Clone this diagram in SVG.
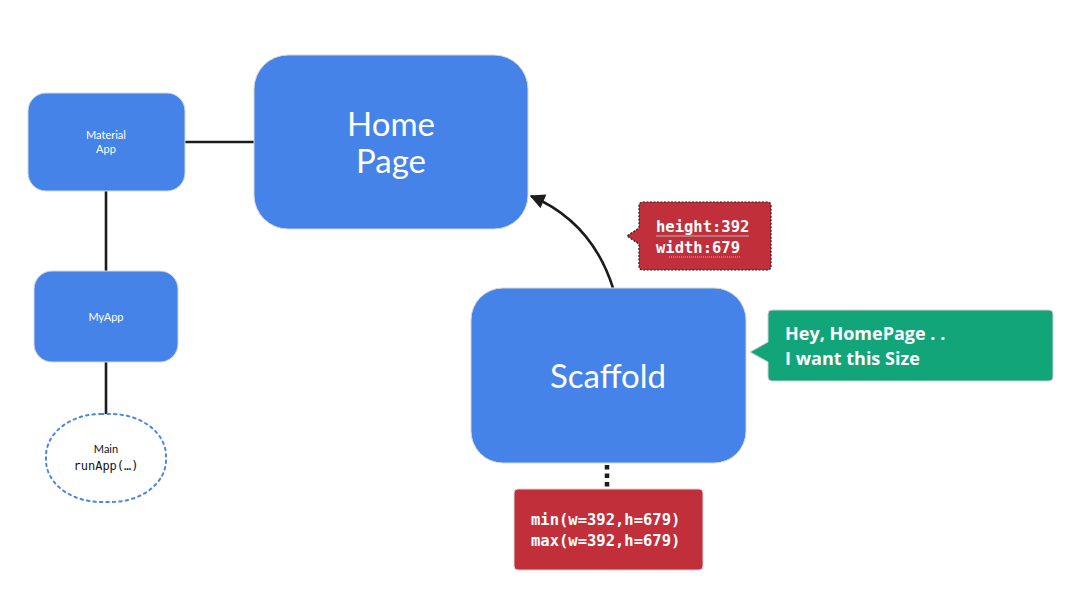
<svg xmlns="http://www.w3.org/2000/svg" width="1080" height="608" viewBox="0 0 1080 608">
<defs>
<style>
.node{fill:#4583e8;stroke:#d6d6d6;stroke-width:1}
.lbl{fill:#ffffff;font-family:Lato,"Open Sans","DejaVu Sans",sans-serif;text-anchor:middle}
.conn{stroke:#1c1c1c;stroke-width:2.6;fill:none}
.mono{font-family:"DejaVu Sans Mono","Liberation Mono",monospace;font-weight:bold;fill:#ffffff;font-size:15.5px}
</style>
<marker id="arrow" viewBox="0 0 10 10" refX="9" refY="5" markerWidth="17" markerHeight="15" orient="auto" markerUnits="userSpaceOnUse">
<path d="M0,0 L10,5 L0,10 z" fill="#1c1c1c"/>
</marker>
</defs>
<rect width="1080" height="608" fill="#ffffff"/>
<g id="connectors">
<line class="conn" x1="185" y1="142" x2="254" y2="142"/>
<line class="conn" x1="106" y1="191" x2="106" y2="271"/>
<line class="conn" x1="106" y1="362" x2="106" y2="414"/>
<path class="conn" d="M613,288 Q592,222 531,196" marker-end="url(#arrow)"/>
<line x1="607" y1="465" x2="607" y2="489" stroke="#1c1c1c" stroke-width="4.5" stroke-dasharray="4.5 4"/>
</g>
<g id="material-app">
<rect class="node" x="28" y="93" width="157" height="98" rx="18"/>
<text class="lbl" x="106" y="139" font-size="11">Material</text>
<text class="lbl" x="106" y="153" font-size="11">App</text>
</g>
<g id="home-page">
<rect class="node" x="254" y="55" width="274" height="174" rx="34"/>
<text class="lbl" x="391" y="136" font-size="33">Home</text>
<text class="lbl" x="391" y="173" font-size="33">Page</text>
</g>
<g id="my-app">
<rect class="node" x="34" y="271" width="144" height="91" rx="18"/>
<text class="lbl" x="106" y="321" font-size="11">MyApp</text>
</g>
<g id="main">
<rect x="46" y="414" width="120" height="88" rx="55" ry="42" fill="#ffffff" stroke="#4a86e8" stroke-width="2" stroke-dasharray="2.5 4" stroke-linecap="round"/>
<text x="106" y="453" font-size="11" text-anchor="middle" font-family="Lato,'Open Sans',sans-serif" fill="#111111">Main</text>
<text x="106" y="470" font-size="12" text-anchor="middle" font-family="'DejaVu Sans Mono','Liberation Mono',monospace" fill="#111111">runApp(…)</text>
</g>
<g id="scaffold">
<rect class="node" x="471" y="288" width="275" height="175" rx="32"/>
<text class="lbl" x="608" y="388" font-size="33">Scaffold</text>
</g>
<g id="size-tooltip">
<path d="M643,202 H767 Q771,202 771,206 V266 Q771,270 767,270 H643 Q639,270 639,266 V244 L627,236 L639,228 V206 Q639,202 643,202 Z" fill="#c1303a" stroke="#1c1c1c" stroke-width="1.2" stroke-dasharray="2 1.5"/>
<text class="mono" x="656" y="232">height:392</text>
<text class="mono" x="656" y="253">width:679</text>
<line x1="656" y1="236" x2="749" y2="236" stroke="#b8b8b8" stroke-width="1"/>
<line x1="669" y1="257" x2="741" y2="257" stroke="#b8b8b8" stroke-width="1" stroke-dasharray="1 1"/>
</g>
<g id="request-tooltip">
<path d="M772,310 H1049 Q1053,310 1053,314 V377 Q1053,381 1049,381 H772 Q768,381 768,377 V362 L750,352 L768,342 V314 Q768,310 772,310 Z" fill="#12a57a" stroke="#d0d0d0" stroke-width="1"/>
<text x="785" y="340" font-size="18" font-weight="bold" font-family="'Open Sans',Lato,sans-serif" fill="#ffffff">Hey, HomePage . .</text>
<text x="785" y="365" font-size="18" font-weight="bold" font-family="'Open Sans',Lato,sans-serif" fill="#ffffff">I want this Size</text>
</g>
<g id="constraints">
<rect x="514" y="489" width="189" height="81" rx="4" fill="#c1303a" stroke="#d6d6d6" stroke-width="1"/>
<text class="mono" x="531" y="525">min(w=392,h=679)</text>
<text class="mono" x="531" y="546">max(w=392,h=679)</text>
</g>
</svg>
